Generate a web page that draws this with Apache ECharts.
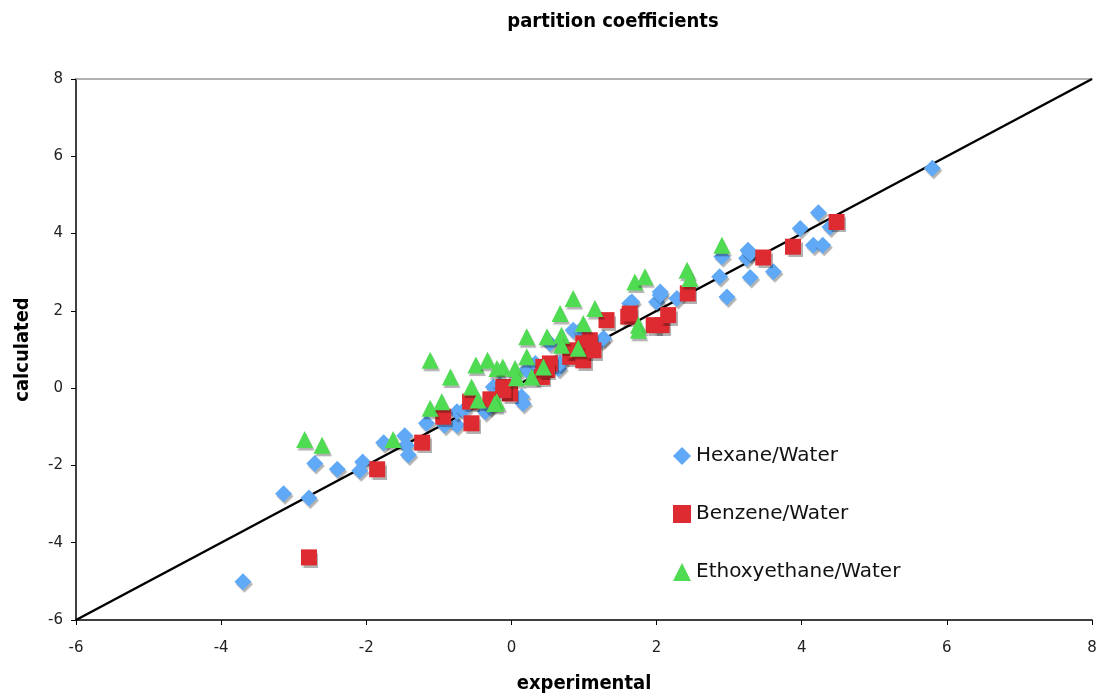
<!DOCTYPE html>
<html><head><meta charset="utf-8">
<script src="https://cdn.jsdelivr.net/npm/echarts@6/dist/echarts.min.js"></script>
<style>html,body{margin:0;padding:0;background:#fff}#c{width:1097px;height:694px}</style>
</head><body><div id="c"></div>
<script>
const titleText = 'partition coefficients';
const xName = 'experimental';
const yName = 'calculated';
const seriesNames = ['Hexane/Water', 'Benzene/Water', 'Ethoxyethane/Water'];
const hexane = [[-3.70,-5.01],[-3.14,-2.73],[-2.79,-2.84],[-2.71,-1.95],[-2.40,-2.10],[-2.05,-1.91],[-2.09,-2.14],[-1.76,-1.41],[-1.47,-1.23],[-1.45,-1.48],[-1.42,-1.73],[-1.17,-0.91],[-0.92,-0.96],[-0.75,-0.96],[-0.75,-0.61],[-0.66,-0.57],[-0.36,-0.61],[-0.29,-0.48],[-0.25,0.03],[-0.16,0.08],[0.14,-0.22],[0.16,-0.40],[0.21,0.47],[0.33,0.64],[0.53,1.16],[0.65,0.51],[0.67,0.64],[0.85,1.50],[0.95,1.50],[1.24,1.24],[1.27,1.29],[1.63,2.19],[1.66,2.23],[2.00,2.23],[2.05,2.49],[2.05,2.41],[2.28,2.32],[2.87,2.88],[2.90,3.40],[2.97,2.36],[3.24,3.36],[3.26,3.57],[3.29,3.49],[3.29,2.86],[3.61,3.01],[3.98,4.13],[4.16,3.70],[4.29,3.70],[4.23,4.54],[4.39,4.17],[5.80,5.69]];
const benzene = [[-2.79,-4.38],[-1.85,-2.10],[-1.23,-1.41],[-0.94,-0.74],[-0.55,-0.91],[-0.57,-0.35],[-0.29,-0.29],[-0.11,0.03],[-0.02,-0.14],[-0.11,-0.05],[0.42,0.29],[0.44,0.55],[0.53,0.64],[0.49,0.47],[0.81,0.81],[0.85,0.98],[0.99,0.72],[0.99,1.16],[1.04,1.07],[1.08,1.24],[1.13,0.98],[1.31,1.76],[1.61,1.85],[1.63,1.93],[1.96,1.63],[2.07,1.63],[2.16,1.89],[2.43,2.45],[3.47,3.38],[3.88,3.66],[4.48,4.30]];
const ethoxy = [[-2.85,-1.33],[-2.61,-1.48],[-1.63,-1.33],[-1.12,0.72],[-1.12,-0.52],[-0.96,-0.35],[-0.84,0.29],[-0.55,0.03],[-0.49,0.60],[-0.46,-0.31],[-0.33,0.72],[-0.20,0.51],[-0.20,-0.35],[-0.23,-0.40],[-0.12,0.55],[0.05,0.51],[0.07,0.27],[0.21,0.81],[0.21,1.33],[0.28,0.29],[0.44,0.55],[0.49,1.33],[0.67,1.93],[0.69,1.37],[0.69,1.11],[0.85,2.32],[0.92,1.03],[0.99,1.67],[1.15,2.06],[1.70,2.75],[1.84,2.88],[1.75,1.63],[1.75,1.50],[2.42,3.05],[2.46,2.84],[2.90,3.70]];
const identityLine = [[-6,-6],[8,8]];
const axisMin = -6, axisMax = 8, axisStep = 2;

const font = 'DejaVu Sans, Verdana, sans-serif';
const boldFont = '"DejaVu Sans Condensed", "DejaVu Sans", sans-serif';
const shadow = {shadowColor:'rgba(0,0,0,0.3)', shadowOffsetX:1.5, shadowOffsetY:2.5, shadowBlur:1};
const chart = echarts.init(document.getElementById('c'));
chart.setOption({
  animation:false,
  backgroundColor:'#fff',
  title:{text:titleText, left:608, textAlign:'center', top:7, textStyle:{fontFamily:boldFont, fontWeight:'bold', fontSize:20, color:'#000'}},
  grid:{left:76, right:5, top:79, bottom:74, containLabel:false, outerBoundsMode:'none'},
  legend:{
    orient:'vertical', left:668, top:441, itemGap:38, itemWidth:18, itemHeight:18,
    textStyle:{fontFamily:font, fontSize:20, color:'#111'},
    data:[
      {name:seriesNames[0], icon:'diamond'},
      {name:seriesNames[1], icon:'rect'},
      {name:seriesNames[2], icon:'triangle'}
    ]
  },
  xAxis:[{
    type:'value', min:axisMin, max:axisMax, interval:axisStep,
    name:xName, nameLocation:'middle', nameGap:54,
    nameTextStyle:{fontFamily:boldFont, fontWeight:'bold', fontSize:20, color:'#000'},
    axisLine:{onZero:false, lineStyle:{color:'#000', width:1.5}},
    axisTick:{length:5, lineStyle:{color:'#000'}},
    axisLabel:{fontFamily:font, fontSize:15, color:'#222', margin:21},
    splitLine:{show:false}
  },{
    type:'value', position:'top', min:axisMin, max:axisMax,
    axisLine:{show:true, onZero:false, lineStyle:{color:'#999', width:1.5}},
    axisTick:{show:false}, axisLabel:{show:false}, splitLine:{show:false}
  }],
  yAxis:{
    type:'value', min:axisMin, max:axisMax, interval:axisStep,
    name:yName, nameLocation:'middle', nameGap:43, nameRotate:90,
    nameTextStyle:{fontFamily:boldFont, fontWeight:'bold', fontSize:20, color:'#000'},
    axisLine:{onZero:false, lineStyle:{color:'#000', width:1.5}},
    axisTick:{length:5, lineStyle:{color:'#000'}},
    axisLabel:{fontFamily:font, fontSize:15, color:'#222', margin:13},
    splitLine:{show:false}
  },
  series:[
    {type:'line', data:identityLine, showSymbol:false, z:1, silent:true,
     lineStyle:{color:'#000', width:2.5}},
    {name:seriesNames[0], type:'scatter', data:hexane, symbol:'diamond', symbolSize:17, z:3,
     itemStyle:Object.assign({color:'#60a9f6', opacity:1}, shadow)},
    {name:seriesNames[1], type:'scatter', data:benzene, symbol:'rect', symbolSize:16, z:4,
     itemStyle:Object.assign({color:'#dd2b31', opacity:1}, shadow)},
    {name:seriesNames[2], type:'scatter', data:ethoxy, symbol:'triangle', symbolSize:17, z:5,
     itemStyle:Object.assign({color:'#4fdb52', opacity:1}, shadow)}
  ]
});
</script></body></html>
